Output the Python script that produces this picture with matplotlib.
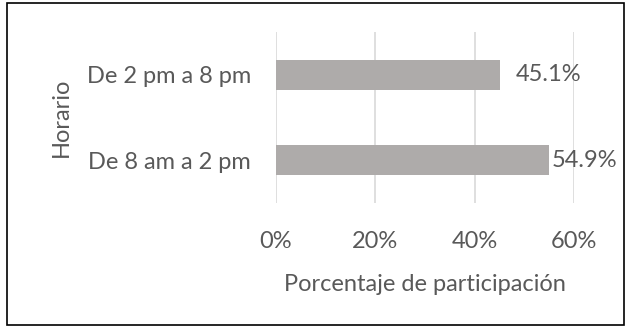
import matplotlib
matplotlib.use('Agg')
import matplotlib.pyplot as plt
from matplotlib.patches import Rectangle
from matplotlib.ticker import FuncFormatter

# data
horarios = ["De 8 am a 2 pm", "De 2 pm a 8 pm"]
porcentajes = [0.549, 0.451]
etiquetas = ["54.9%", "45.1%"]
ticks_x = [0.0, 0.2, 0.4, 0.6]

plt.rcParams['font.family'] = ['Lato', 'DejaVu Sans']
text_color = '#595959'
fs = 17

fig = plt.figure(figsize=(6.27, 3.27), dpi=100)
ax = fig.add_axes([276 / 627, 1 - 203 / 327, 298 / 627, 171 / 327])

ax.barh(range(len(horarios)), porcentajes, height=0.35, color='#AEABAA', zorder=3)

# data labels (Excel put the second one tight against the bar)
offsets = [3, 16]
for i, (v, lab) in enumerate(zip(porcentajes, etiquetas)):
    ax.annotate(lab, (v, i), xytext=(offsets[i], 0), textcoords='offset pixels',
                ha='left', va='center', fontsize=fs, color=text_color)

ax.set_xlim(0, 0.6)
ax.set_ylim(-0.5, 1.5)
ax.set_xticks(ticks_x)
ax.xaxis.set_major_formatter(FuncFormatter(lambda x, p: f"{x * 100:.0f}%"))
ax.set_yticks(range(len(horarios)))
ax.set_yticklabels(horarios)
ax.tick_params(axis='x', length=0, pad=20, labelsize=fs, labelcolor=text_color)
ax.tick_params(axis='y', length=0, pad=18, labelsize=fs, labelcolor=text_color)
ax.grid(axis='x', color='#D9D9D9', linewidth=1.2, zorder=0)
for s in ax.spines.values():
    s.set_visible(False)

ax.set_xlabel("Porcentaje de participación", fontsize=fs, color=text_color, labelpad=16)
ax.set_ylabel("Horario", fontsize=fs, color=text_color, labelpad=11)

# black frame around the chart
fig.patches.append(Rectangle((7 / 627, 2 / 327), 617 / 627, 322 / 327,
                             transform=fig.transFigure, fill=False,
                             edgecolor='black', linewidth=1.2))

fig.savefig('out.png', dpi=100)
